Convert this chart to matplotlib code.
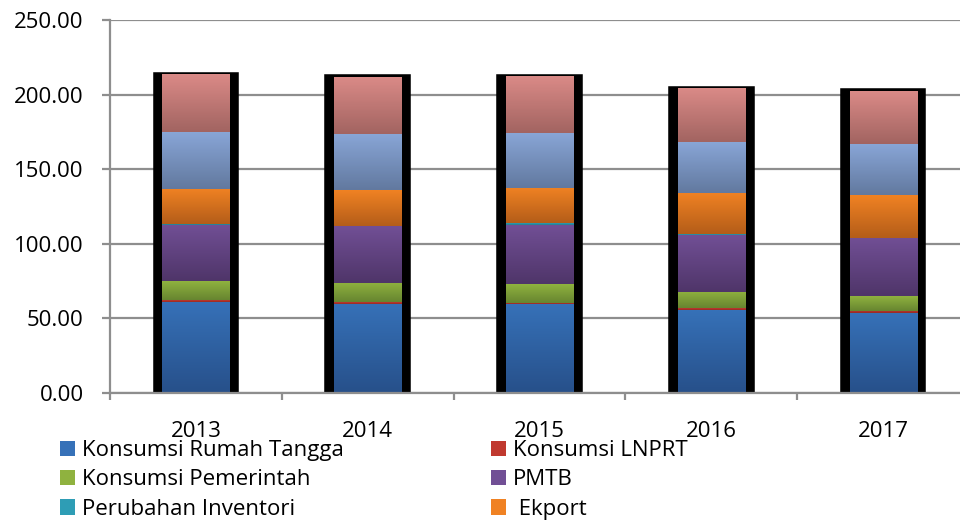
import numpy as np
import matplotlib
matplotlib.use("Agg")
import matplotlib.pyplot as plt
from matplotlib.patches import Patch
from matplotlib.colors import to_rgb

plt.rcParams['font.family'] = ['Open Sans', 'DejaVu Sans']

# data (stacked from the bottom up)
years = ['2013', '2014', '2015', '2016', '2017']
rumah_tangga = [61.2, 59.8, 59.6, 55.6, 53.4]
lnprt = [1.2, 1.2, 0.8, 1.3, 1.5]
pemerintah = [12.6, 12.9, 12.7, 11.0, 9.9]
pmtb = [37.6, 37.7, 39.4, 38.1, 39.0]
inventori = [0.7, 0.6, 1.1, 0.3, 0.3]
ekport = [23.5, 24.0, 23.7, 27.5, 28.8]
seri_7 = [38.3, 37.7, 37.0, 34.3, 34.3]
seri_8 = [38.3, 37.8, 37.6, 35.6, 35.0]

series = [
    ('Konsumsi Rumah Tangga', rumah_tangga, '#3671b8', '#27508a'),
    ('Konsumsi LNPRT', lnprt, '#c0392f', '#962a24'),
    ('Konsumsi Pemerintah', pemerintah, '#8fb23f', '#678530'),
    ('PMTB', pmtb, '#714f95', '#4f3569'),
    ('Perubahan Inventori', inventori, '#2e9db5', '#237b8e'),
    (' Ekport', ekport, '#f08223', '#b45d19'),
    (None, seri_7, '#89a6d7', '#62799f'),
    (None, seri_8, '#da8a87', '#a26461'),
]

fig = plt.figure(figsize=(9.6, 5.21), dpi=100)
ax = fig.add_axes([0.1146, 0.2457, 0.8948, 0.716])

x = np.arange(len(years))
totals = np.sum([s[1] for s in series], axis=0)

# black frame behind each stack
ax.bar(x, totals, width=0.47, color='black', edgecolor='black',
       linewidth=4, zorder=2)

w = 0.39
bottom = np.zeros(len(years))
for name, vals, top_c, bot_c in series:
    vals = np.array(vals)
    grad = np.linspace(to_rgb(bot_c), to_rgb(top_c), 64).reshape(64, 1, 3)
    for xi, b, v in zip(x, bottom, vals):
        ax.imshow(grad, extent=(xi - w / 2, xi + w / 2, b, b + v),
                  origin='lower', aspect='auto', interpolation='bilinear',
                  zorder=3)
    bottom += vals

ax.set_xlim(-0.5, len(years) - 0.5)
ax.set_ylim(0, 250)
ax.set_yticks(np.arange(0, 251, 50))
ax.yaxis.set_major_formatter(matplotlib.ticker.FormatStrFormatter('%.2f'))
ax.set_xticks(x)
ax.set_xticklabels(years)
ax.set_xticks(np.arange(-0.5, len(years)), minor=True)

ax.grid(axis='y', color='#8e8e8e', linewidth=1.6, zorder=1)
ax.set_axisbelow(True)
for s in ['top', 'right']:
    ax.spines[s].set_visible(False)
for s in ['left', 'bottom']:
    ax.spines[s].set_color('#8e8e8e')
    ax.spines[s].set_linewidth(1.6)
    ax.spines[s].set_zorder(4)

ax.tick_params(axis='y', length=6, width=1.6, color='#8e8e8e', pad=13,
               labelsize=16)
ax.tick_params(axis='x', which='major', length=0, pad=20, labelsize=16)
ax.tick_params(axis='x', which='minor', length=5, width=1.6, color='#8e8e8e')

handles = []
order = [0, 2, 4, 1, 3, 5]
for i in order:
    name, vals, top_c, bot_c = series[i]
    handles.append(Patch(facecolor=top_c, edgecolor='none', label=name))
fig.legend(handles=handles, loc='upper left', bbox_to_anchor=(0.0625, 0.155),
           ncol=2, frameon=False, fontsize=16, borderpad=0, borderaxespad=0,
           handlelength=0.68, handleheight=0.68, handletextpad=0.32,
           columnspacing=6.6, labelspacing=0.37)

fig.savefig('out.png', dpi=100)
